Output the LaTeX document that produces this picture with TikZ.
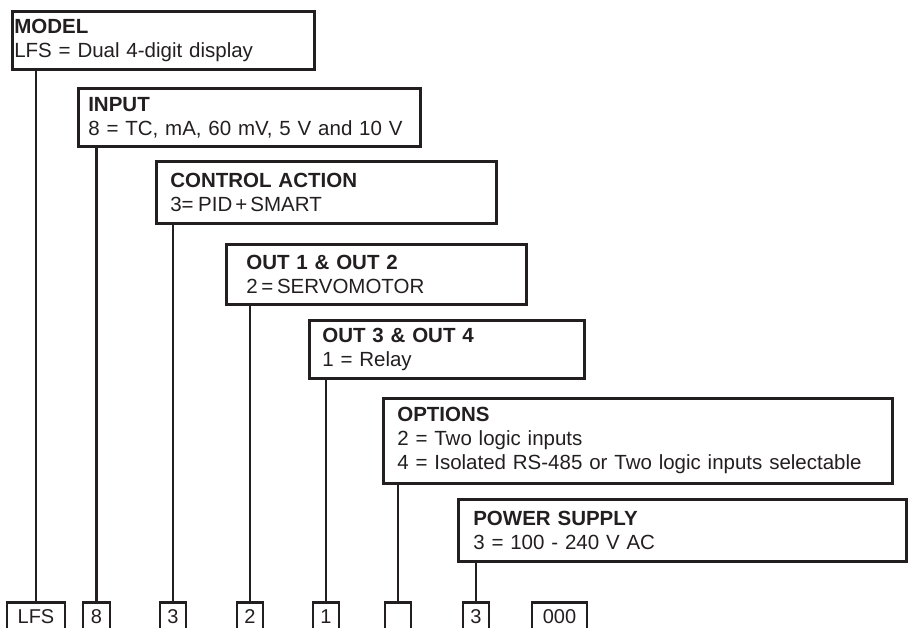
\documentclass[tikz,border=0pt]{standalone}
\usepackage{fontspec}
\setmainfont{Liberation Sans}
\usepackage{tikz}

\definecolor{ink}{RGB}{35,31,32}
\tikzset{
  field/.style={draw=ink,line width=2.6pt,anchor=north west,align=left,inner ysep=0pt,
    font=\fontsize{20.5}{24}\selectfont},
  code/.style={draw=ink,line width=2.6pt,anchor=north,inner sep=0pt,minimum height=29pt,
    font=\fontsize{20}{24}\selectfont},
  lead/.style={draw=ink,line width=2.6pt}
}

\begin{document}
\begin{tikzpicture}[x=1pt,y=-1pt,text=ink]
\useasboundingbox (0,0) rectangle (911,628);
\clip (0,0) rectangle (911,628);
% description boxes
\node[field,minimum width=302pt,minimum height=58pt,inner xsep=2pt,text width=298pt] (model) at (11,10)
  {\textbf{MODEL}\\LFS = Dual 4-digit display};
\node[field,minimum width=342pt,minimum height=58pt,inner xsep=10pt,text width=322pt] (input) at (77,87)
  {\textbf{INPUT}\\8 = TC, mA, 60 mV, 5 V and 10 V};
\node[field,minimum width=340pt,minimum height=62pt,inner xsep=14pt,text width=312pt] (action) at (155,160)
  {\textbf{CONTROL ACTION}\\3=\hspace{0.22em}PID\hspace{0.15em}+\hspace{0.15em}SMART};
\node[field,minimum width=300pt,minimum height=60pt,inner xsep=20pt,text width=260pt] (out12) at (225,243)
  {\textbf{OUT 1 \& OUT 2}\\2\hspace{0.18em}=\hspace{0.18em}SERVOMOTOR};
\node[field,minimum width=275pt,minimum height=58pt,inner xsep=13pt,text width=249pt] (out34) at (308,319)
  {\textbf{OUT 3 \& OUT 4}\\1 = Relay};
\node[field,minimum width=509pt,minimum height=85pt,inner xsep=14pt,text width=481pt] (options) at (382,397)
  {\textbf{OPTIONS}\\2 = Two logic inputs\\4 = Isolated RS-485 or Two logic inputs selectable};
\node[field,minimum width=448pt,minimum height=62pt,inner xsep=15pt,text width=418pt] (power) at (457,498)
  {\textbf{POWER SUPPLY}\\3 = 100 - 240 V AC};
% order code
\node[code,minimum width=58pt] (lfs) at (36,601) {LFS};
\node[code,minimum width=27pt] (c8) at (96.5,601) {8};
\node[code,minimum width=26pt] (c3) at (173,601) {3};
\node[code,minimum width=26pt] (c2) at (250,601) {2};
\node[code,minimum width=26pt] (c1) at (326,601) {1};
\node[code,minimum width=26pt] (copt) at (398,601) {};
\node[code,minimum width=26pt] (cps) at (476,601) {3};
\node[code,minimum width=55pt] (c000) at (559.5,601) {000};
% leads
\draw[lead] (model.south -| lfs.north) -- (lfs.north);
\draw[lead] (input.south -| c8.north) -- (c8.north);
\draw[lead] (action.south -| c3.north) -- (c3.north);
\draw[lead] (out12.south -| c2.north) -- (c2.north);
\draw[lead] (out34.south -| c1.north) -- (c1.north);
\draw[lead] (options.south -| copt.north) -- (copt.north);
\draw[lead] (power.south -| cps.north) -- (cps.north);
\end{tikzpicture}
\end{document}
